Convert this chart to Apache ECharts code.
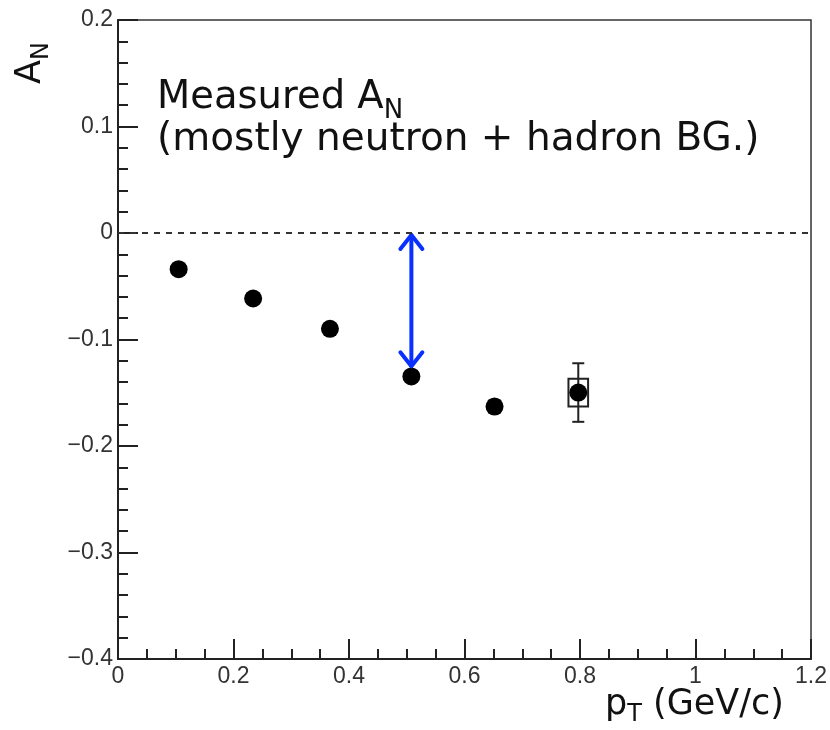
<!DOCTYPE html>
<html>
<head>
<meta charset="utf-8">
<script src="https://cdn.jsdelivr.net/npm/echarts@6/dist/echarts.min.js"></script>
<style>
  html, body { margin: 0; background: #fff; }
  #chart { width: 830px; height: 730px; }
</style>
</head>
<body>
<div id="chart"></div>
<script>
// measured A_N vs pT
const ptValues = [0.105, 0.234, 0.367, 0.508, 0.652, 0.797];
const anValues = [-0.034, -0.0615, -0.090, -0.1347, -0.163, -0.1498];
const statErrors = [0.004, 0.004, 0.004, 0.004, 0.006, 0.0275];
const sysErrors = [0, 0, 0, 0, 0, 0.013];

// axis ticks
const xTickValues = [0, 0.2, 0.4, 0.6, 0.8, 1, 1.2];
const yTickValues = [-0.4, -0.3, -0.2, -0.1, 0, 0.1, 0.2];

// blue arrow: from the zero line down to the 4th point
const arrowPt = [0.508];
const arrowFrom = [0];
const arrowTo = [-0.127];

const TXT = '"DejaVu Sans", "Open Sans", sans-serif';
const sysHalfWidth = 0.017;

const chart = echarts.init(document.getElementById('chart'), null, { renderer: 'canvas' });

const fmt = v => String(+v.toFixed(2)).replace('-', '\u2212');

const axisCommon = {
  axisLine: { show: true, onZero: false, lineStyle: { color: '#222', width: 2 } },
  axisTick: { show: true, inside: true, length: 20, lineStyle: { color: '#222', width: 2 } },
  minorTick: { show: true, length: 10, lineStyle: { color: '#222', width: 2 } },
  splitLine: { show: false },
  axisLabel: {
    color: '#333',
    fontFamily: '"Liberation Sans", Arial, sans-serif',
    fontSize: 23,
    showMinLabel: true,
    showMaxLabel: true,
    formatter: fmt
  }
};

const option = {
  animation: false,
  backgroundColor: '#fff',
  grid: {
    left: 118, right: 13, top: 20, bottom: 71,
    show: true, borderColor: '#333', borderWidth: 1.5, containLabel: false
  },
  xAxis: Object.assign({}, axisCommon, {
    type: 'value',
    min: xTickValues[0],
    max: xTickValues[xTickValues.length - 1],
    interval: 0.2,
    minorTick: Object.assign({}, axisCommon.minorTick, { splitNumber: 4 }),
    axisLabel: Object.assign({}, axisCommon.axisLabel, { margin: 6 })
  }),
  yAxis: Object.assign({}, axisCommon, {
    type: 'value',
    min: yTickValues[0],
    max: yTickValues[yTickValues.length - 1],
    interval: 0.1,
    minorTick: Object.assign({}, axisCommon.minorTick, { splitNumber: 5 }),
    axisLabel: Object.assign({}, axisCommon.axisLabel, { margin: 5 })
  }),
  graphic: [
    {
      type: 'text', x: 157, y: 98, z: 10,
      style: {
        text: '{m|Measured A}{s|N}',
        align: 'left', verticalAlign: 'middle',
        rich: {
          m: { font: '38.5px ' + TXT, fill: '#111' },
          s: { font: '26px ' + TXT, fill: '#111', padding: [26, 0, 0, 0], lineHeight: 1 }
        }
      }
    },
    {
      type: 'text', x: 157, y: 140, z: 10,
      style: {
        text: '(mostly neutron + hadron BG.)',
        font: '39px ' + TXT, fill: '#111',
        align: 'left', verticalAlign: 'middle'
      }
    },
    {
      type: 'text', x: 31, y: 84, rotation: Math.PI / 2, z: 10,
      style: {
        text: '{m|A}{s|N}',
        align: 'left', verticalAlign: 'middle',
        rich: {
          m: { font: '35px ' + TXT, fill: '#111' },
          s: { font: '24px ' + TXT, fill: '#111', padding: [22, 0, 0, 0], lineHeight: 1 }
        }
      }
    },
    {
      type: 'text', x: 605, y: 705, z: 10,
      style: {
        text: '{m|p}{s|T}{m| (GeV/c)}',
        align: 'left', verticalAlign: 'middle',
        rich: {
          m: { font: '35px ' + TXT, fill: '#111' },
          s: { font: '24px ' + TXT, fill: '#111', padding: [20, 0, 0, 0], lineHeight: 1 }
        }
      }
    }
  ],
  series: [
    {
      // error bars and systematic boxes
      type: 'custom',
      data: ptValues.map((x, i) => [x, anValues[i], statErrors[i], sysErrors[i]]),
      renderItem: function (params, api) {
        const x = api.value(0), y = api.value(1), stat = api.value(2), sys = api.value(3);
        const children = [];
        const st = { stroke: '#222', lineWidth: 2, fill: 'none' };
        if (stat > 0) {
          const top = api.coord([x, y + stat]);
          const bot = api.coord([x, y - stat]);
          children.push({ type: 'line', shape: { x1: top[0], y1: top[1], x2: bot[0], y2: bot[1] }, style: st });
          children.push({ type: 'line', shape: { x1: top[0] - 6, y1: top[1], x2: top[0] + 6, y2: top[1] }, style: st });
          children.push({ type: 'line', shape: { x1: bot[0] - 6, y1: bot[1], x2: bot[0] + 6, y2: bot[1] }, style: st });
        }
        if (sys > 0) {
          const a = api.coord([x - sysHalfWidth, y + sys]);
          const b = api.coord([x + sysHalfWidth, y - sys]);
          children.push({ type: 'rect', shape: { x: a[0], y: a[1], width: b[0] - a[0], height: b[1] - a[1] }, style: st });
        }
        return { type: 'group', children: children };
      },
      z: 2
    },
    {
      type: 'scatter',
      data: ptValues.map((x, i) => [x, anValues[i]]),
      symbol: 'circle',
      symbolSize: 18,
      itemStyle: { color: '#000', opacity: 1 },
      z: 3,
      markLine: {
        silent: true,
        symbol: 'none',
        label: { show: false },
        lineStyle: { color: '#333', width: 2, type: [6, 6] },
        data: [{ yAxis: 0 }]
      }
    },
    {
      // double-headed arrow
      type: 'custom',
      data: arrowPt.map((x, i) => [x, arrowFrom[i], arrowTo[i]]),
      renderItem: function (params, api) {
        const p1 = api.coord([api.value(0), api.value(1)]);
        const p2 = api.coord([api.value(0), api.value(2)]);
        const st = { stroke: '#0a30ff', lineWidth: 4, lineCap: 'round', lineJoin: 'round', fill: 'none' };
        const hw = 11, hh = 16;
        return {
          type: 'group',
          children: [
            { type: 'line', shape: { x1: p1[0], y1: p1[1] + 2, x2: p2[0], y2: p2[1] - 2 }, style: st },
            { type: 'polyline', shape: { points: [[p1[0] - hw, p1[1] + hh], [p1[0], p1[1] + 2], [p1[0] + hw, p1[1] + hh]] }, style: st },
            { type: 'polyline', shape: { points: [[p2[0] - hw, p2[1] - hh], [p2[0], p2[1] - 2], [p2[0] + hw, p2[1] - hh]] }, style: st }
          ]
        };
      },
      z: 4
    }
  ]
};

chart.setOption(option);
</script>
</body>
</html>
